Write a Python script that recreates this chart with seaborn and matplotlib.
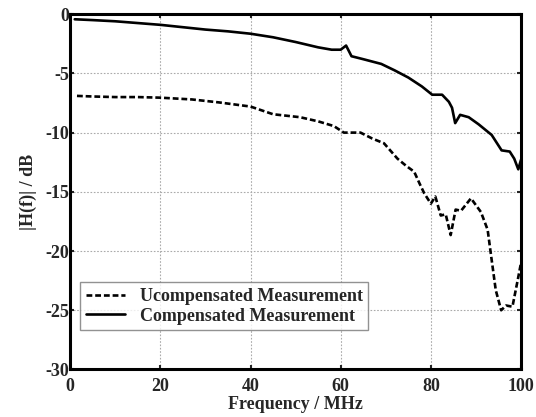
import pandas as pd
import matplotlib
matplotlib.use('Agg')
import matplotlib.pyplot as plt
import seaborn as sns

# compensated measurement (solid line)
freq_comp = [1, 5, 10, 15, 20, 25, 30, 35, 40, 45, 50, 55, 58, 60, 61.2, 62.4, 65, 69, 72, 75,
             78, 80.3, 82.5, 84, 84.7, 85.4, 86.5, 88.4, 90.6, 93.5, 95.7, 97.5, 98.5, 99.4, 100]
comp = [-0.43, -0.5, -0.6, -0.75, -0.9, -1.1, -1.3, -1.45, -1.65, -1.95, -2.35, -2.8, -3.0, -3.0,
        -2.65, -3.55, -3.8, -4.2, -4.75, -5.35, -6.1, -6.8, -6.8, -7.4, -7.9, -9.2, -8.5, -8.7,
        -9.3, -10.2, -11.5, -11.6, -12.2, -13.1, -12.3]

# uncompensated measurement (dashed line)
freq_unc = [1.5, 5, 10, 15, 20, 27, 33, 40, 45, 51, 55, 58.5, 60.7, 64.4, 67, 69.6, 72.6, 74.5,
            76.3, 77.5, 78.5, 80, 81, 82.2, 83.3, 84.4, 85.5, 86.7, 88.9, 91.1, 92.6, 93.3, 94.4,
            95.6, 96.7, 98.1, 99.3, 100]
unc = [-6.9, -6.95, -7.0, -7.0, -7.05, -7.2, -7.45, -7.8, -8.45, -8.7, -9.05, -9.45, -10.0, -10.0,
       -10.5, -10.9, -12.2, -12.8, -13.3, -14.3, -15.1, -16.0, -15.4, -17.0, -16.9, -18.65, -16.5,
       -16.6, -15.55, -16.7, -18.2, -20.2, -23.3, -25.0, -24.6, -24.7, -22.4, -21.0]

xticks = [0, 20, 40, 60, 80, 100]
yticks = [0, -5, -10, -15, -20, -25, -30]

sns.set_style('ticks')
plt.rcParams['font.family'] = ['Liberation Serif', 'DejaVu Serif']
plt.rcParams['font.weight'] = 'bold'
plt.rcParams['axes.unicode_minus'] = False

fig = plt.figure(figsize=(5.36, 4.17), dpi=100)
ax = fig.add_axes([0.131, 0.114, 0.841, 0.852])

df_unc = pd.DataFrame({'f': freq_unc, 'h': unc})
df_comp = pd.DataFrame({'f': freq_comp, 'h': comp})
sns.lineplot(data=df_unc, x='f', y='h', ax=ax, color='black', lw=1.9,
             linestyle=(0, (2.2, 1.1)), label='Ucompensated Measurement')
sns.lineplot(data=df_comp, x='f', y='h', ax=ax, color='black', lw=1.9,
             label='Compensated Measurement')

ax.set_xlim(0, 100)
ax.set_ylim(-30, 0)
ax.set_xticks(xticks)
ax.set_yticks(yticks)
ax.grid(True, color='#aaaaaa', linestyle=(0, (1.5, 1.5)), lw=0.8)
ax.tick_params(direction='in', top=True, right=True, length=3, width=1.5,
               labelsize=13)
ax.tick_params(axis='x', pad=6)
ax.tick_params(axis='y', pad=1)
for s in ax.spines.values():
    s.set_linewidth(2.2)
    s.set_color('black')
ax.set_xlabel('Frequency / MHz', fontsize=13, fontweight='bold', labelpad=1)
ax.set_ylabel('|H(f)| / dB', fontsize=13, fontweight='bold', labelpad=6)

leg = ax.legend(loc='lower left', bbox_to_anchor=(0.022, 0.111), borderaxespad=0,
                fontsize=13, frameon=True, fancybox=False, handlelength=2.2,
                borderpad=0.3, labelspacing=0.15, handletextpad=0.8)
leg.get_frame().set_edgecolor('#777777')
leg.get_frame().set_linewidth(1)

fig.savefig('out.png', dpi=100)
